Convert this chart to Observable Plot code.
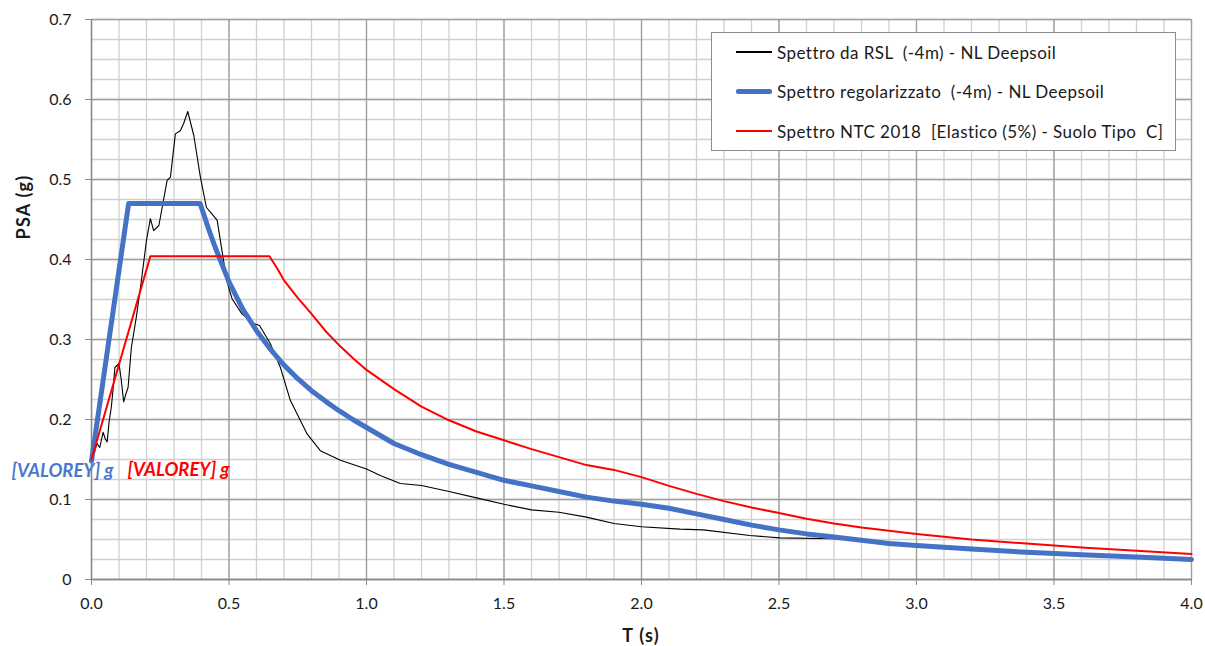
<!DOCTYPE html>
<html>
<head>
<meta charset="utf-8">
<script src="https://cdn.jsdelivr.net/npm/d3@7"></script>
<script src="https://cdn.jsdelivr.net/npm/@observablehq/plot@0.6"></script>
<style>
  body { margin: 0; background: #fff; font-family: Lato, "Open Sans", sans-serif; }
  #wrap { position: relative; width: 1205px; height: 646px; }
  #legend { position: absolute; left: 711px; top: 32px; width: 463px; height: 117px;
            border: 1px solid #8c8c8c; background: #fff; font-size: 17px; letter-spacing: 0.45px; color: #1a1a1a; }
  .row { position: absolute; left: 24px; height: 20px; display: flex; align-items: center; white-space: pre; }
  .sw { width: 36px; margin-right: 5px; }
  .ytitle { position: absolute; left: 23px; top: 207px; transform: translate(-50%, -50%) rotate(-90deg);
            font-weight: bold; font-size: 18px; letter-spacing: 1.2px; color: #1a1a1a; white-space: pre; }
  .xtitle { position: absolute; left: 641px; top: 635px; transform: translate(-50%, -50%);
            font-weight: bold; font-size: 18px; letter-spacing: 1.2px; color: #1a1a1a; white-space: pre; }
</style>
</head>
<body>
<div id="wrap"></div>
<script>
// ---- Data ----
const seriesNames = [
  "Spettro da RSL  (-4m) - NL Deepsoil",
  "Spettro regolarizzato  (-4m) - NL Deepsoil",
  "Spettro NTC 2018  [Elastico (5%) - Suolo Tipo  C]"
];
const seriesColors = ["#000000", "#4472C4", "#FF0000"];

const rslT = [0.0,0.01,0.02,0.03,0.042,0.05,0.057,0.064,0.072,0.079,0.085,0.1,0.108,0.117,0.125,0.133,0.145,0.163,0.18,0.2,0.214,0.226,0.245,0.275,0.287,0.305,0.323,0.335,0.35,0.372,0.396,0.418,0.438,0.457,0.48,0.493,0.511,0.547,0.59,0.611,0.65,0.687,0.723,0.784,0.832,0.905,1.0,1.05,1.123,1.2,1.3,1.4,1.5,1.6,1.7,1.8,1.9,2.0,2.14,2.225,2.394,2.503,2.697,2.8,3.0,3.2,3.4,3.6,3.8,4.0];
const rslPSA = [0.155,0.158,0.17,0.165,0.184,0.176,0.172,0.197,0.215,0.240,0.265,0.27,0.25,0.222,0.232,0.240,0.29,0.328,0.37,0.424,0.451,0.436,0.4425,0.499,0.503,0.557,0.561,0.570,0.585,0.555,0.503,0.465,0.457,0.449,0.399,0.372,0.351,0.332,0.320,0.3175,0.295,0.265,0.224,0.182,0.161,0.149,0.138,0.130,0.120,0.1175,0.110,0.102,0.094,0.087,0.084,0.078,0.070,0.066,0.063,0.062,0.055,0.052,0.051,0.049,0.042,0.038,0.034,0.031,0.028,0.025];

const regT = [0,0.135,0.395,0.425,0.45,0.5,0.55,0.6,0.65,0.7,0.75,0.8,0.85,0.9,0.95,1.0,1.1,1.2,1.3,1.4,1.5,1.6,1.7,1.8,1.9,2.0,2.1,2.2,2.3,2.4,2.5,2.6,2.7,2.8,2.9,3.0,3.2,3.4,3.6,3.8,4.0];
const regPSA = [0.148,0.47,0.47,0.439,0.415,0.372,0.338,0.311,0.288,0.268,0.251,0.236,0.223,0.211,0.200,0.19,0.17,0.156,0.144,0.134,0.124,0.117,0.110,0.103,0.098,0.094,0.089,0.082,0.075,0.068,0.062,0.057,0.053,0.049,0.045,0.0425,0.038,0.034,0.031,0.028,0.025];

const ntcT = [0,0.214,0.647,0.675,0.7,0.75,0.8,0.85,0.9,0.95,1.0,1.1,1.2,1.3,1.4,1.5,1.6,1.7,1.8,1.9,2.0,2.1,2.2,2.3,2.4,2.5,2.6,2.7,2.8,2.9,3.0,3.2,3.4,3.6,3.8,4.0];
const ntcPSA = [0.15,0.404,0.404,0.389,0.374,0.352,0.332,0.311,0.293,0.277,0.262,0.238,0.216,0.199,0.185,0.174,0.163,0.153,0.143,0.137,0.128,0.117,0.107,0.098,0.090,0.083,0.076,0.070,0.065,0.061,0.057,0.050,0.045,0.040,0.036,0.032];

const xTicks = [0,0.5,1.0,1.5,2.0,2.5,3.0,3.5,4.0];
const yTicks = [0,0.1,0.2,0.3,0.4,0.5,0.6,0.7];
const xMinor = d3.range(0, 41).map(i => i / 10);
const yMinor = d3.range(0, 29).map(i => i * 0.025);
const pointLabel = "[VALOREY] g";

const zip = (T, P) => T.map((t, i) => ({T: t, PSA: P[i]}));
const rsl = zip(rslT, rslPSA), reg = zip(regT, regPSA), ntc = zip(ntcT, ntcPSA);

const chart = Plot.plot({
  width: 1205, height: 646,
  marginLeft: 91, marginRight: 14, marginTop: 19, marginBottom: 67,
  style: {fontFamily: "Lato, 'Open Sans', sans-serif", fontSize: "16px", color: "#1a1a1a", background: "#fff"},
  x: {domain: [0, 4]},
  y: {domain: [0, 0.7]},
  marks: [
    Plot.ruleX(xMinor, {stroke: "#d0d0d0", strokeWidth: 1.3}),
    Plot.ruleY(yMinor, {stroke: "#d0d0d0", strokeWidth: 1.3}),
    Plot.ruleX(xTicks, {stroke: "#a0a0a0", strokeWidth: 1.3}),
    Plot.ruleY(yTicks, {stroke: "#a0a0a0", strokeWidth: 1.3}),
    Plot.axisX(xTicks, {tickSize: 6, tickPadding: 12, stroke: "#888", tickFormat: d => d.toFixed(1), label: null}),
    Plot.axisY(yTicks, {tickSize: 6, tickPadding: 14, stroke: "#888", tickFormat: d => d === 0 ? "0" : d.toFixed(1), label: null}),
    Plot.ruleY([0], {stroke: "#888", strokeWidth: 1.3}),
    Plot.ruleX([0], {stroke: "#888", strokeWidth: 1.3}),
    Plot.line(rsl, {x: "T", y: "PSA", stroke: seriesColors[0], strokeWidth: 1.1}),
    Plot.line(reg, {x: "T", y: "PSA", stroke: seriesColors[1], strokeWidth: 5}),
    Plot.line(ntc, {x: "T", y: "PSA", stroke: seriesColors[2], strokeWidth: 2}),
    Plot.text([reg[0]], {x: "T", y: "PSA", text: () => pointLabel, dx: -29, dy: 10, fill: "#4A78CC",
      fontStyle: "italic", fontWeight: "bold", fontSize: 18.5, textAnchor: "middle"}),
    Plot.text([ntc[0]], {x: "T", y: "PSA", text: () => pointLabel, dx: 87, dy: 11, fill: "#FF0000",
      fontStyle: "italic", fontWeight: "bold", fontSize: 18.5, textAnchor: "middle"})
  ]
});

const wrap = document.getElementById("wrap");
wrap.appendChild(chart);

// axis titles
const yt = document.createElement("div"); yt.className = "ytitle"; yt.textContent = "PSA (g)"; wrap.appendChild(yt);
const xt = document.createElement("div"); xt.className = "xtitle"; xt.textContent = "T (s)"; wrap.appendChild(xt);

// legend
const legend = document.createElement("div"); legend.id = "legend";
const rowTops = [9, 48, 88];
const swH = [1.3, 5, 2];
seriesNames.forEach((name, i) => {
  const r = document.createElement("div"); r.className = "row"; r.style.top = rowTops[i] + "px";
  const sw = document.createElement("div"); sw.className = "sw";
  sw.style.height = swH[i] + "px"; sw.style.background = seriesColors[i];
  if (i === 1) sw.style.borderRadius = "2px";
  const tx = document.createElement("span"); tx.textContent = name;
  r.appendChild(sw); r.appendChild(tx); legend.appendChild(r);
});
wrap.appendChild(legend);
</script>
</body>
</html>
